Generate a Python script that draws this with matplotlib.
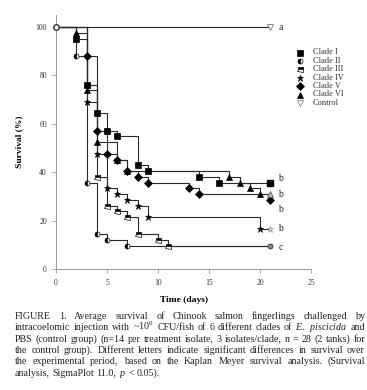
import matplotlib
matplotlib.use("Agg")
import matplotlib.pyplot as plt
from matplotlib.lines import Line2D

plt.rcParams["font.family"] = ["Liberation Serif", "DejaVu Serif"]
plt.rcParams["mathtext.fontset"] = "custom"
plt.rcParams["mathtext.rm"] = "Liberation Serif"
plt.rcParams["mathtext.it"] = "Liberation Serif:italic"
plt.rcParams["mathtext.bf"] = "Liberation Serif:bold"

# Kaplan-Meier survival (%), event days and survival after each event
clade1_days = [2, 3, 4, 5, 6, 8, 9, 14, 16]
clade1_surv = [95.2, 76.2, 64.3, 57.1, 54.8, 42.9, 40.5, 38.1, 35.7]
clade2_days = [2, 3, 4, 5, 7]
clade2_surv = [88.1, 35.7, 14.3, 11.9, 9.5]
clade3_days = [3, 4, 5, 6, 7, 8, 10, 11]
clade3_surv = [76.2, 38.1, 26.2, 23.8, 21.4, 14.3, 11.9, 9.5]
clade4_days = [3, 4, 5, 6, 7, 8, 9, 20]
clade4_surv = [69.0, 47.6, 33.3, 31.0, 28.6, 26.2, 21.4, 16.7]
clade5_days = [3, 4, 5, 6, 7, 8, 9, 13, 14, 21]
clade5_surv = [88.1, 57.1, 47.6, 45.2, 40.5, 38.1, 35.7, 33.3, 31.0, 28.6]
clade6_days = [2, 3, 4, 6, 7, 17, 18, 19, 20]
clade6_surv = [97.6, 73.8, 52.4, 45.2, 40.5, 38.1, 35.7, 33.3, 31.0]
control_days = []
control_surv = []
end_day = 21

labels = ["Clade I", "Clade II", "Clade III", "Clade IV", "Clade V", "Clade VI", "Control"]
letters = ["a", "b", "b", "b", "b", "c"]
letter_y = [100, 37.6, 31.0, 24.6, 16.6, 9.0]

LINE = "#2a2a2a"
W, H = 367, 390

fig = plt.figure(figsize=(W / 100, H / 100), dpi=100)
ax = fig.add_axes([56 / W, 1 - 269 / H, 255 / W, 254 / H])

# marker styles (also used for the legend)
st_c1 = dict(marker="s", mfc="black", mec="black", ms=3.8)
st_c2 = dict(marker="o", mfc="black", mfcalt="white", fillstyle="left", mec="black", ms=3.6)
st_c3 = dict(marker="s", mfc="black", mfcalt="white", fillstyle="top", mec="black", ms=3.6)
st_c4 = dict(marker="*", mfc="black", mec="black", ms=4.5)
st_c5 = dict(marker="D", mfc="black", mec="black", ms=3.6)
st_c6 = dict(marker="^", mfc="black", mec="black", ms=4)
st_ctl = dict(marker="v", mfc="white", mec="#777777", ms=4)

series = [
    (clade3_days, clade3_surv, st_c3),
    (clade2_days, clade2_surv, st_c2),
    (clade4_days, clade4_surv, st_c4),
    (clade6_days, clade6_surv, st_c6),
    (clade5_days, clade5_surv, st_c5),
    (clade1_days, clade1_surv, st_c1),
]

# step lines
for days, surv, st in series + [(control_days, control_surv, None)]:
    x = [0] + days + [end_day]
    y = [100] + surv + [surv[-1] if surv else 100]
    ax.step(x, y, where="post", color=LINE, lw=0.8, zorder=2)

# event markers
for days, surv, st in series:
    ax.plot(days, surv, ls="none", mew=0.5, zorder=3, clip_on=False, **st)

# end (censored) markers
ax.plot([end_day], [clade1_surv[-1]], ls="none", zorder=4, **st_c1)
ax.plot([end_day], [clade6_surv[-1]], ls="none", marker="^", mfc="#bbbbbb", mec="#555555", mew=0.6, ms=4, zorder=4)
ax.plot([end_day], [clade4_surv[-1]], ls="none", marker="*", mfc="white", mec="#999999", mew=0.6, ms=5, zorder=4)
ax.plot([end_day], [clade2_surv[-1]], ls="none", marker="o", mfc="#888888", mec="#333333", mew=0.6, ms=3.6, zorder=4)
ax.plot([end_day], [100], ls="none", mew=0.6, zorder=4, **st_ctl)
ax.plot([0], [100], ls="none", marker="o", mfc="white", mec="#333333", mew=1.0, ms=4, zorder=4, clip_on=False)

for lt, ly in zip(letters, letter_y):
    ax.text(21.8, ly, lt, fontsize=7, ha="left", va="center", color="#222222")

ax.set_xlim(0, 25)
ax.set_ylim(0, 105)
ax.set_xticks([0, 5, 10, 15, 20, 25])
ax.set_yticks([0, 20, 40, 60, 80, 100])
for s in ["top", "right"]:
    ax.spines[s].set_visible(False)
for s in ["left", "bottom"]:
    ax.spines[s].set_color("#999999")
    ax.spines[s].set_linewidth(0.7)
ax.tick_params(length=3, width=0.6, color="#999999", labelsize=5.5, labelcolor="#333333")
ax.tick_params(axis="x", pad=4.5)
ax.tick_params(axis="y", pad=3.5)

ax.set_xlabel("Time (days)", fontsize=6.8, fontweight="bold")
ax.xaxis.set_label_coords(0.5, -0.105)
ax.set_ylabel("Survival (%)", fontsize=6.8, fontweight="bold")
ax.yaxis.set_label_coords(-0.13, 0.5)

# legend, drawn by hand so rows sit tight like the source
legend_styles = [st_c1, st_c2, st_c3, st_c4, st_c5, st_c6, st_ctl]
for i, (st, lab) in enumerate(zip(legend_styles, labels)):
    ypix = 52.5 + i * 8.4
    fig.add_artist(Line2D([300 / W], [1 - ypix / H], ls="none", mew=0.5,
                          transform=fig.transFigure, **st))
    fig.text(313 / W, 1 - ypix / H, lab, fontsize=6, va="center", ha="left", color="#333333")

# caption, justified like the source
caption = [
    ("FIGURE 1. Average survival of Chinook salmon fingerlings challenged by", True),
    (r"intracoelomic injection with ~10$^6$ CFU/fish of 6 different clades of $\mathit{E.}$ $\mathit{piscicida}$ and", True),
    ("PBS (control group) (n=14 per treatment isolate, 3 isolates/clade, n = 28 (2 tanks) for", True),
    ("the control group). Different letters indicate significant differences in survival over", True),
    ("the experimental period, based on the Kaplan Meyer survival analysis. (Survival", True),
    (r"analysis, SigmaPlot 11.0, $\mathit{p}$ < 0.05).", False),
]
renderer = fig.canvas.get_renderer()
x0, x1 = 15, 365
for i, (line, justify) in enumerate(caption):
    ypix = 319 + i * 11.3
    words = line.split(" ")
    texts = [fig.text(0, 1 - ypix / H, w, fontsize=7.2, va="baseline", ha="left", color="#222222")
             for w in words]
    widths = [t.get_window_extent(renderer).width for t in texts]
    gap = (x1 - x0 - sum(widths)) / (len(words) - 1) if justify else 2.4
    x = x0
    for t, w in zip(texts, widths):
        t.set_x(x / W)
        x += w + gap

fig.savefig("out.png", dpi=100)
